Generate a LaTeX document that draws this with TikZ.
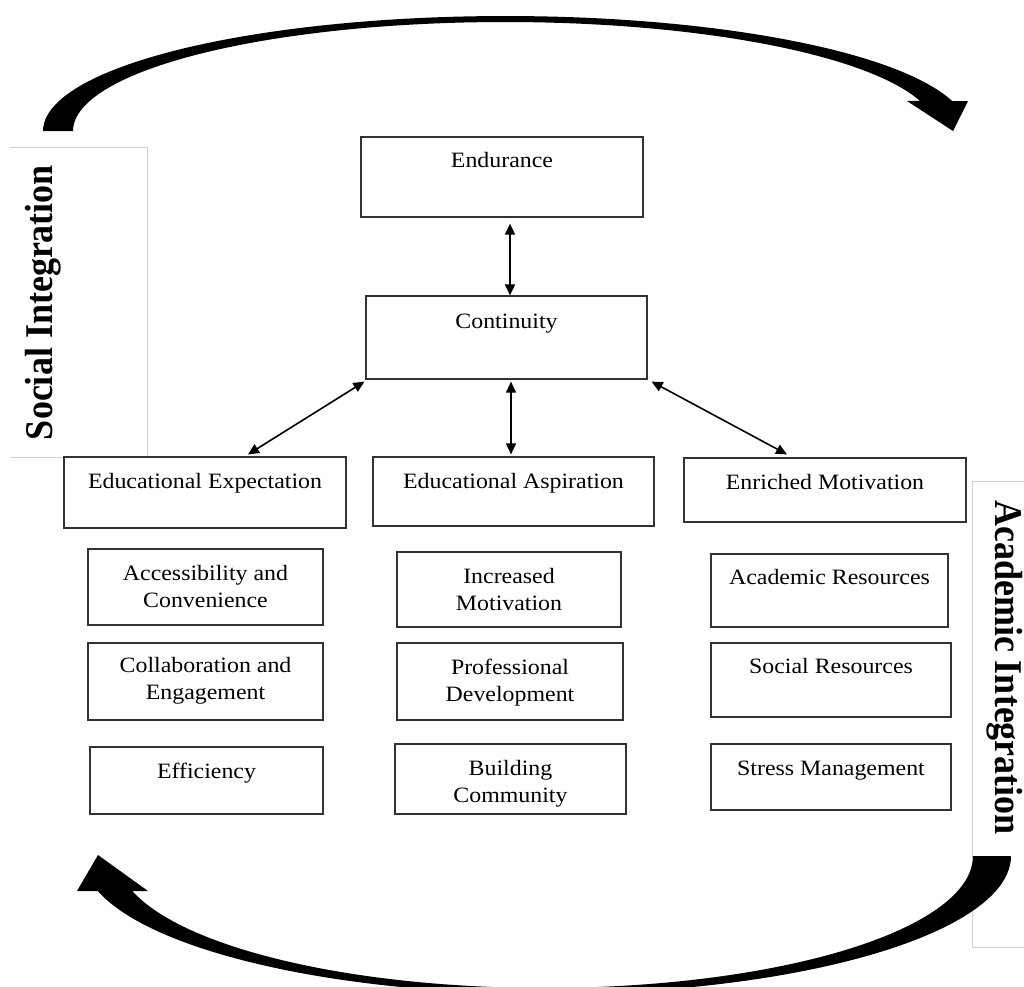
\documentclass[tikz,border=0pt]{standalone}
\usepackage{fontspec}
\newfontfamily\boxfont{Liberation Serif}[FakeStretch=1.09]
\newfontfamily\sidefont{Liberation Serif}[FakeStretch=0.916]
\usetikzlibrary{arrows.meta}
\begin{document}
\begin{tikzpicture}[x=1pt,y=-1pt,
  box/.style={draw=black!80, line width=1.2pt, inner sep=0pt},
  txt/.style={font=\boxfont\fontsize{21.9}{27}\selectfont, align=center, inner sep=0pt, anchor=north},
  conn/.style={line width=1.6pt, {Triangle[length=11pt,width=10pt]}-{Triangle[length=11pt,width=10pt]}},
  side/.style={draw=black!18, line width=0.8pt},
  sidetxt/.style={font=\sidefont\bfseries\fontsize{39.3}{45}\selectfont, inner sep=0pt, anchor=base},
  bigarrow/.style={fill=black}]

\useasboundingbox (0,0) rectangle (1024,986);
\clip (0,0) rectangle (1024,986);

% side label frames
\draw[side] (10,147) -- (147,147) -- (147,457) -- (10,457);
\draw[side] (1024,481) -- (972,481) -- (972,947) -- (1024,947);

% side labels
\node[sidetxt, rotate=90] (soc) at (52,302.5) {Social Integration};
\node[sidetxt, rotate=-90] (aca) at (995,667.5) {Academic Integration};

% big curved arrows
\fill[bigarrow] (43,131)
  -- plot[domain=180:344.9, samples=90, variable=\t] ({505.6+462.6*cos(\t)}, {131+115*sin(\t)})
  -- (968,101) -- (953,131) -- (907,101)
  -- plot[domain=344.0:180, samples=90, variable=\t] ({504.9+431.9*cos(\t)}, {131+109*sin(\t)})
  -- cycle;
\fill[bigarrow] (1011,856)
  -- plot[domain=0:165.31, samples=90, variable=\t] ({546.8+464.2*cos(\t)}, {856+138*sin(\t)})
  -- (77,891) -- (98,855) -- (148,891)
  -- plot[domain=164.62:0, samples=90, variable=\t] ({545+428*cos(\t)}, {856+132*sin(\t)})
  -- cycle;

% boxes
\node[box, minimum width=282pt, minimum height=80pt] (endu) at (502,177) {};
\node[box, minimum width=281pt, minimum height=83pt] (cont) at (506.5,337.5) {};
\node[box, minimum width=282pt, minimum height=71pt] (exp) at (205,492.5) {};
\node[box, minimum width=281pt, minimum height=69pt] (asp) at (513.5,491.5) {};
\node[box, minimum width=282pt, minimum height=64pt] (mot) at (825,490) {};
\node[box, minimum width=235pt, minimum height=76pt] (acc) at (205.5,587) {};
\node[box, minimum width=235pt, minimum height=77pt] (col) at (205.5,681.5) {};
\node[box, minimum width=233pt, minimum height=67pt] (eff) at (206.5,780.5) {};
\node[box, minimum width=224pt, minimum height=75pt] (inc) at (509,589.5) {};
\node[box, minimum width=226pt, minimum height=77pt] (pro) at (510,681.5) {};
\node[box, minimum width=231pt, minimum height=70pt] (bld) at (510.5,779) {};
\node[box, minimum width=237pt, minimum height=73pt] (acr) at (829.5,590.5) {};
\node[box, minimum width=240pt, minimum height=74pt] (scr) at (831,680) {};
\node[box, minimum width=240pt, minimum height=66pt] (str) at (831,777) {};

% texts
\node[txt] (endu-t) at ([yshift=-16pt]endu.north) {Endurance};
\node[txt] (cont-t) at ([yshift=-18pt]cont.north) {Continuity};
\node[txt] (exp-t) at ([yshift=-17pt]exp.north) {Educational Expectation};
\node[txt] (asp-t) at ([yshift=-17pt]asp.north) {Educational Aspiration};
\node[txt] (mot-t) at ([yshift=-17pt]mot.north) {Enriched Motivation};
\node[txt] (acc-t) at ([yshift=-17pt]acc.north) {Accessibility and\\Convenience};
\node[txt] (col-t) at ([yshift=-15pt]col.north) {Collaboration and\\Engagement};
\node[txt] (eff-t) at ([yshift=-16pt]eff.north) {Efficiency};
\node[txt] (inc-t) at ([yshift=-17pt]inc.north) {Increased\\Motivation};
\node[txt] (pro-t) at ([yshift=-16pt]pro.north) {Professional\\Development};
\node[txt] (bld-t) at ([yshift=-17pt]bld.north) {Building\\Community};
\node[txt] (acr-t) at ([yshift=-16pt]acr.north) {Academic Resources};
\node[txt] (scr-t) at ([yshift=-16pt]scr.north) {Social Resources};
\node[txt] (str-t) at ([yshift=-17pt]str.north) {Stress Management};

% connectors
\draw[conn, shorten >=6pt] ([xshift=3.5pt]cont.north) -- ([xshift=3.5pt]cont.north |- endu.south);
\draw[conn, shorten <=2pt, shorten >=2pt] ([xshift=4.5pt]cont.south) -- ([xshift=4.5pt]cont.south |- asp.north);
\draw[conn] ([xshift=-1pt,yshift=-2pt]cont.south west) -- ([xshift=43pt,yshift=2pt]exp.north);
\draw[conn] ([xshift=4pt,yshift=-2pt]cont.south east) -- ([xshift=-38pt,yshift=3pt]mot.north);
\end{tikzpicture}
\end{document}
